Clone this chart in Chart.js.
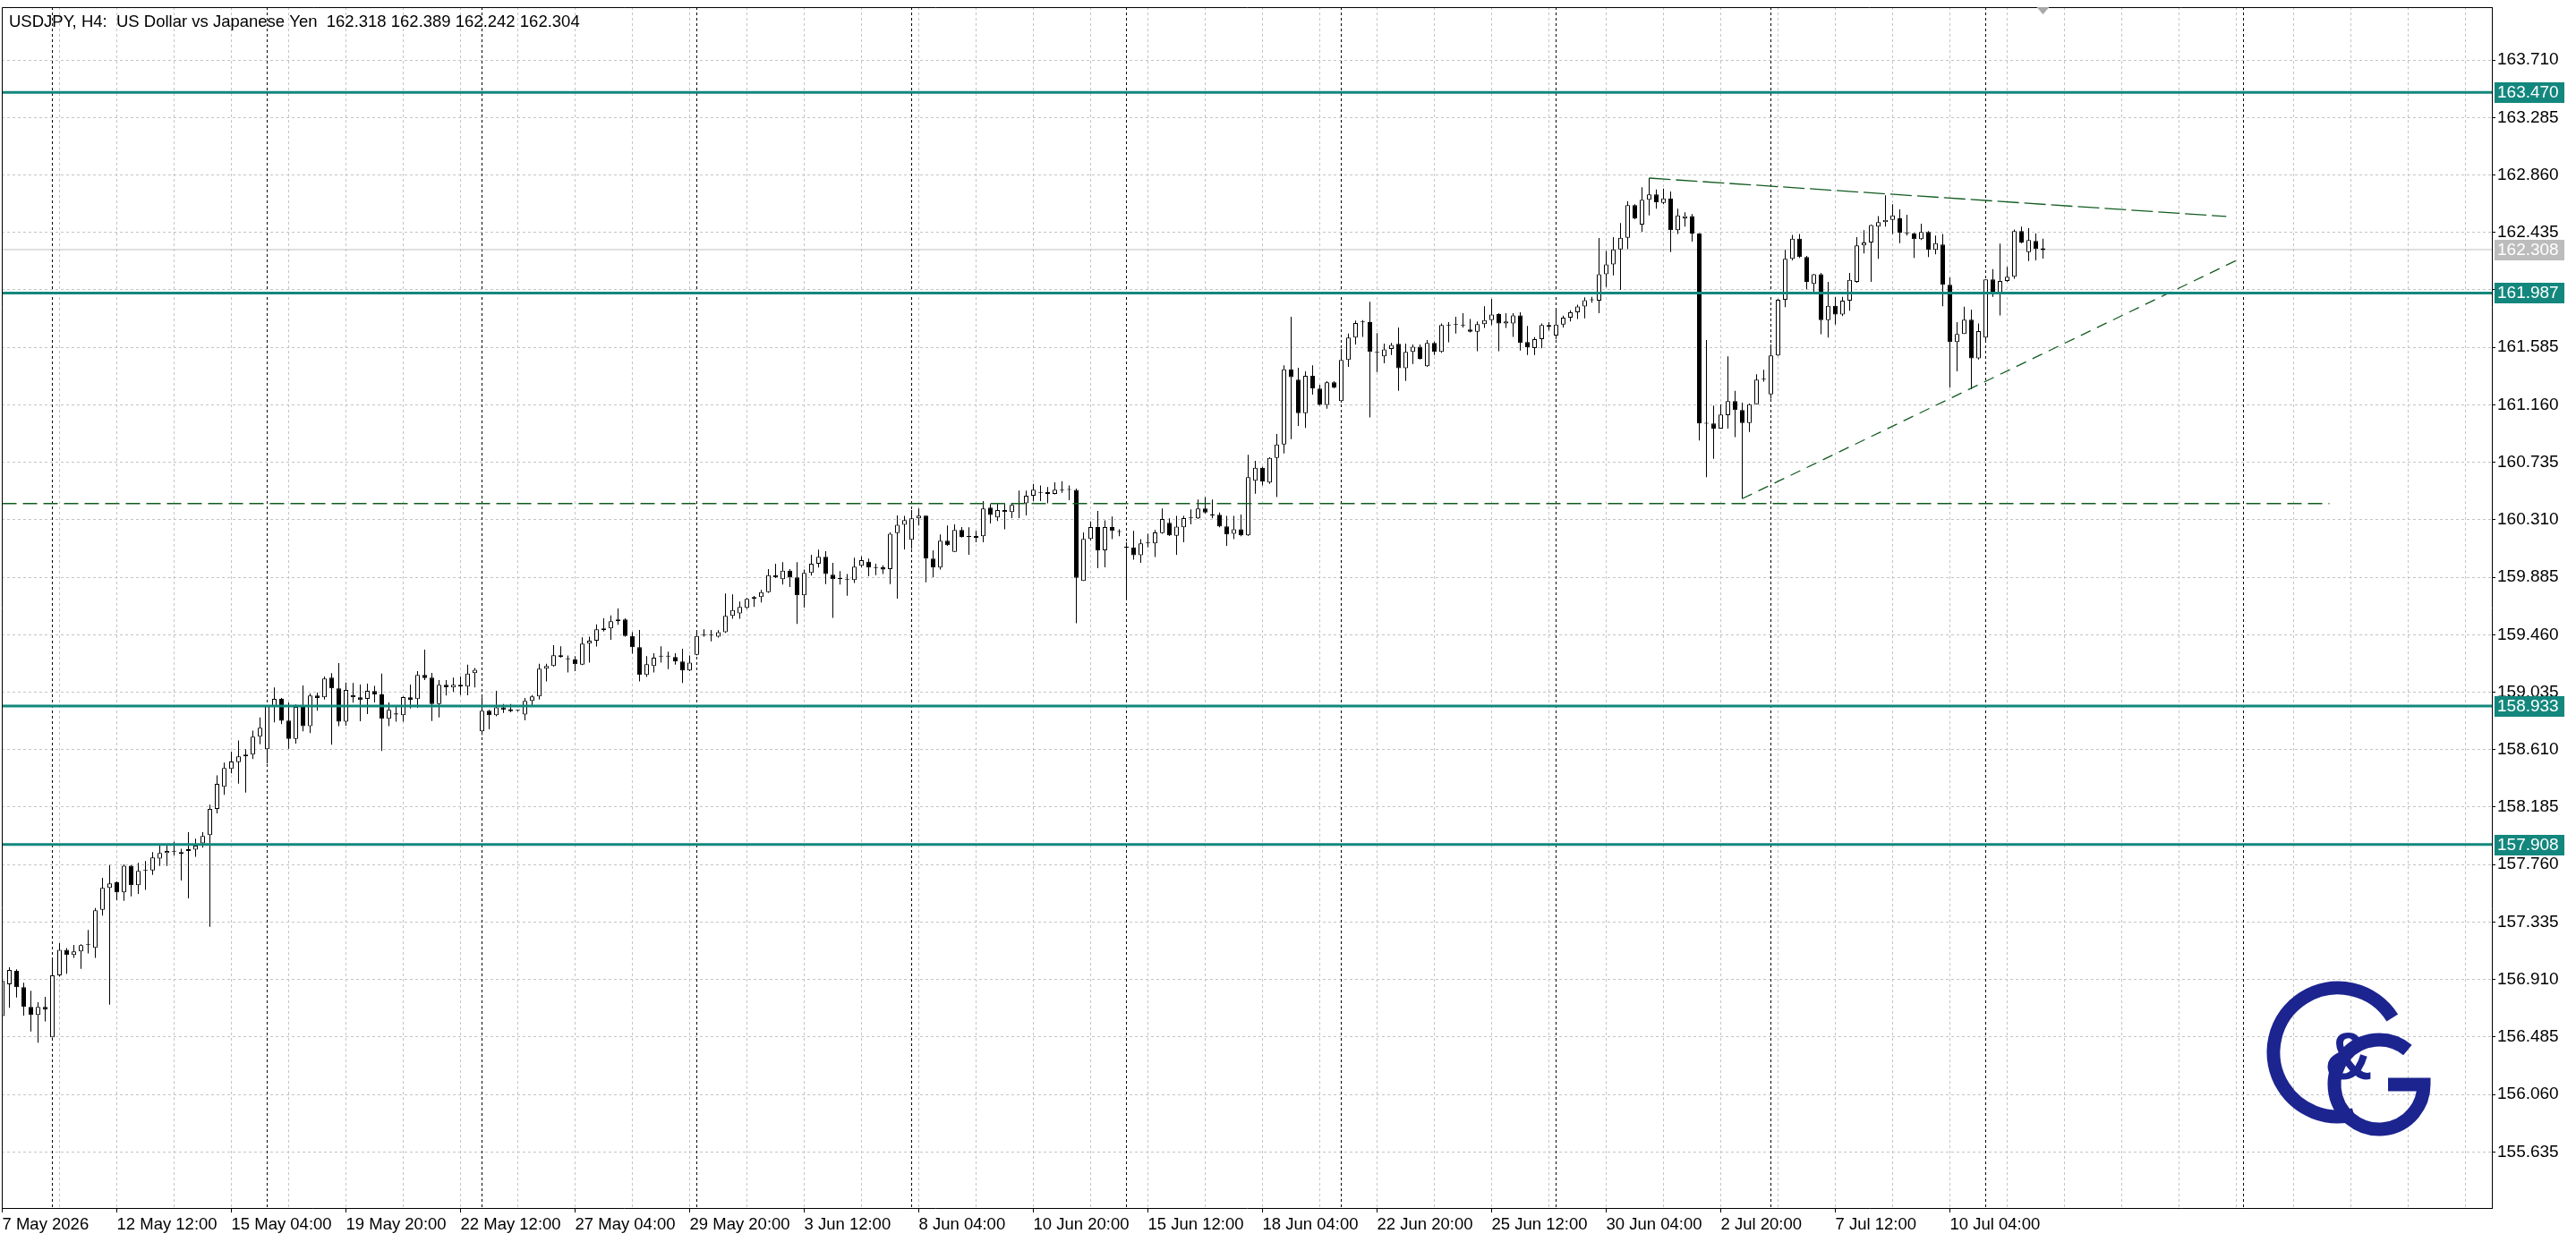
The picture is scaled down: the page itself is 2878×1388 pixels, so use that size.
<!DOCTYPE html>
<html>
<head>
<meta charset="utf-8">
<script src="https://cdn.jsdelivr.net/npm/chart.js@4.4.1/dist/chart.umd.min.js"></script>
<style>
  html, body { margin: 0; padding: 0; background: #fff; }
</style>
</head>
<body>
<canvas id="chart" width="2878" height="1388"></canvas>
<script>
// USDJPY H4, one entry per bar (bar 0 = 7 May 20:00)
const opens = [
  156.640, 156.875, 156.974, 156.853, 156.707, 156.648, 156.707, 156.482, 156.941, 157.130,
  157.091, 157.117, 157.166, 157.144, 157.426, 157.587, 157.629, 157.554, 157.752, 157.607,
  157.713, 157.717, 157.805, 157.845, 157.858, 157.839, 157.861, 157.871, 157.916, 157.978,
  158.172, 158.335, 158.467, 158.518, 158.560, 158.573, 158.706, 158.613, 158.931, 158.986,
  158.825, 158.690, 158.926, 158.783, 159.010, 158.997, 159.142, 159.063, 158.816, 159.014,
  158.997, 158.986, 159.043, 159.019, 158.838, 158.878, 158.864, 158.997, 158.984, 159.162,
  159.142, 158.948, 159.089, 159.070, 159.089, 159.076, 159.175, 158.745, 158.897, 158.864,
  158.922, 158.908, 158.897, 158.869, 158.970, 159.003, 159.209, 159.228, 159.308, 159.279,
  159.279, 159.239, 159.394, 159.416, 159.493, 159.506, 159.559, 159.573, 159.451, 159.367,
  159.162, 159.228, 159.301, 159.301, 159.295, 159.261, 159.195, 159.312, 159.453, 159.456,
  159.445, 159.478, 159.599, 159.617, 159.659, 159.725, 159.738, 159.775, 159.901, 159.870,
  159.934, 159.884, 159.751, 159.917, 159.985, 160.036, 159.903, 159.875, 159.870, 159.864,
  159.970, 160.000, 159.956, 159.959, 159.945, 160.212, 160.272, 160.162, 160.320, 160.340,
  160.023, 159.956, 160.155, 160.073, 160.234, 160.184, 160.177, 160.188, 160.400, 160.327,
  160.382, 160.367, 160.426, 160.431, 160.488, 160.510, 160.514, 160.501, 160.525, 160.532,
  160.530, 159.857, 160.168, 160.256, 160.084, 160.256, 160.223, 160.104, 160.106, 160.047,
  160.135, 160.135, 160.212, 160.287, 160.192, 160.254, 160.320, 160.320, 160.393, 160.345,
  160.347, 160.261, 160.206, 160.239, 160.195, 160.598, 160.695, 160.585, 160.768, 160.867,
  161.423, 161.346, 161.099, 161.375, 161.280, 161.159, 161.326, 161.187, 161.492, 161.657,
  161.772, 161.772, 161.545, 161.518, 161.573, 161.611, 161.430, 161.551, 161.589, 161.445,
  161.617, 161.551, 161.750, 161.750, 161.750, 161.717, 161.701, 161.756, 161.787, 161.831,
  161.761, 161.761, 161.822, 161.624, 161.580, 161.646, 161.750, 161.673, 161.754, 161.805,
  161.845, 161.887, 161.933, 161.930, 162.125, 162.198, 162.310, 162.396, 162.637, 162.493,
  162.676, 162.716, 162.654, 162.687, 162.451, 162.539, 162.555, 162.427, 161.022, 161.022,
  160.984, 161.083, 161.187, 161.121, 161.026, 161.165, 161.346, 161.238, 161.525, 161.937,
  162.239, 162.389, 162.253, 162.054, 162.125, 161.787, 161.893, 161.827, 161.931, 162.070,
  162.339, 162.361, 162.478, 162.511, 162.528, 162.539, 162.429, 162.429, 162.385, 162.438,
  162.306, 162.345, 162.048, 161.624, 161.684, 161.789, 161.503, 161.657, 162.087, 161.988,
  162.076, 162.107, 162.445, 162.290, 162.372, 162.318
];
const highs = [
  156.910, 157.000, 156.985, 156.886, 156.826, 156.742, 156.782, 157.062, 157.179, 157.143,
  157.166, 157.170, 157.276, 157.439, 157.662, 157.757, 157.636, 157.761, 157.757, 157.772,
  157.786, 157.852, 157.900, 157.900, 157.929, 157.877, 157.999, 157.951, 157.999, 158.203,
  158.419, 158.514, 158.595, 158.677, 158.613, 158.750, 158.849, 158.937, 159.070, 158.992,
  158.959, 158.944, 159.085, 159.025, 159.032, 159.151, 159.175, 159.250, 159.107, 159.103,
  159.092, 159.098, 159.081, 159.173, 158.959, 158.931, 159.003, 159.092, 159.191, 159.350,
  159.178, 159.125, 159.125, 159.142, 159.151, 159.239, 159.213, 158.997, 158.904, 159.045,
  158.948, 158.948, 158.904, 158.992, 159.014, 159.246, 159.246, 159.383, 159.374, 159.306,
  159.301, 159.440, 159.445, 159.537, 159.581, 159.603, 159.654, 159.581, 159.478, 159.495,
  159.301, 159.323, 159.374, 159.334, 159.323, 159.356, 159.306, 159.478, 159.500, 159.495,
  159.493, 159.764, 159.758, 159.705, 159.731, 159.747, 159.791, 159.945, 159.985, 159.996,
  159.945, 159.996, 159.941, 160.051, 160.089, 160.078, 159.992, 159.930, 159.908, 160.029,
  160.040, 160.023, 159.985, 159.974, 160.217, 160.342, 160.338, 160.382, 160.393, 160.342,
  160.084, 160.201, 160.267, 160.276, 160.256, 160.254, 160.228, 160.448, 160.426, 160.431,
  160.431, 160.431, 160.525, 160.525, 160.576, 160.563, 160.552, 160.587, 160.596, 160.563,
  160.541, 160.217, 160.298, 160.375, 160.305, 160.334, 160.239, 160.144, 160.228, 160.166,
  160.206, 160.234, 160.393, 160.320, 160.338, 160.338, 160.386, 160.459, 160.477, 160.459,
  160.364, 160.338, 160.338, 160.349, 160.790, 160.746, 160.702, 160.772, 160.945, 161.452,
  161.811, 161.434, 161.408, 161.452, 161.308, 161.335, 161.335, 161.573, 161.688, 161.783,
  161.787, 161.922, 161.690, 161.613, 161.617, 161.732, 161.613, 161.606, 161.606, 161.639,
  161.628, 161.761, 161.772, 161.811, 161.838, 161.794, 161.776, 161.889, 161.944, 161.838,
  161.838, 161.838, 161.845, 161.743, 161.661, 161.761, 161.772, 161.864, 161.820, 161.860,
  161.900, 161.955, 161.959, 162.394, 162.297, 162.400, 162.504, 162.665, 162.643, 162.769,
  162.837, 162.753, 162.760, 162.738, 162.610, 162.584, 162.570, 162.430, 161.639, 161.154,
  161.165, 161.518, 161.264, 161.176, 161.170, 161.386, 161.419, 161.606, 161.944, 162.306,
  162.416, 162.423, 162.261, 162.129, 162.136, 162.070, 161.959, 161.959, 162.136, 162.400,
  162.451, 162.493, 162.555, 162.709, 162.643, 162.606, 162.566, 162.434, 162.500, 162.445,
  162.411, 162.423, 162.103, 161.772, 161.886, 161.864, 161.761, 162.087, 162.164, 162.352,
  162.180, 162.456, 162.478, 162.467, 162.429, 162.389
];
const lows = [
  156.630, 156.700, 156.776, 156.643, 156.526, 156.442, 156.599, 156.480, 156.930, 156.952,
  157.069, 156.989, 157.102, 157.069, 157.382, 156.724, 157.497, 157.492, 157.525, 157.543,
  157.572, 157.684, 157.750, 157.750, 157.827, 157.642, 157.510, 157.817, 157.885, 157.300,
  158.139, 158.275, 158.434, 158.359, 158.293, 158.540, 158.650, 158.507, 158.811, 158.798,
  158.617, 158.655, 158.745, 158.732, 158.897, 158.981, 158.646, 158.783, 158.787, 158.957,
  158.820, 158.873, 158.959, 158.600, 158.783, 158.816, 158.816, 158.915, 158.920, 159.125,
  158.822, 158.849, 159.010, 159.036, 159.014, 159.012, 159.070, 158.717, 158.761, 158.856,
  158.882, 158.886, 158.891, 158.827, 158.926, 158.981, 159.114, 159.224, 159.290, 159.180,
  159.191, 159.235, 159.253, 159.372, 159.484, 159.422, 159.533, 159.445, 159.319, 159.114,
  159.147, 159.180, 159.253, 159.206, 159.239, 159.103, 159.191, 159.306, 159.445, 159.411,
  159.438, 159.473, 159.577, 159.577, 159.650, 159.665, 159.698, 159.769, 159.879, 159.831,
  159.813, 159.539, 159.661, 159.897, 159.956, 159.835, 159.584, 159.831, 159.749, 159.842,
  159.959, 159.892, 159.901, 159.908, 159.835, 159.727, 160.091, 160.095, 160.267, 159.848,
  159.886, 159.941, 160.117, 160.073, 160.179, 160.051, 160.144, 160.144, 160.283, 160.300,
  160.239, 160.323, 160.323, 160.342, 160.448, 160.448, 160.431, 160.497, 160.510, 160.455,
  159.544, 159.857, 160.157, 159.952, 159.959, 160.166, 160.188, 159.731, 160.014, 159.992,
  160.106, 160.034, 160.206, 160.190, 160.051, 160.144, 160.276, 160.316, 160.356, 160.320,
  160.254, 160.117, 160.166, 160.188, 160.190, 160.503, 160.563, 160.576, 160.477, 160.801,
  160.907, 161.004, 160.989, 161.236, 161.154, 161.132, 161.282, 161.176, 161.441, 161.606,
  161.662, 161.066, 161.403, 161.467, 161.529, 161.264, 161.337, 161.463, 161.496, 161.441,
  161.529, 161.545, 161.622, 161.688, 161.732, 161.695, 161.556, 161.728, 161.750, 161.556,
  161.728, 161.662, 161.562, 161.529, 161.529, 161.578, 161.710, 161.644, 161.732, 161.776,
  161.794, 161.800, 161.915, 161.838, 162.032, 162.118, 162.010, 162.312, 162.533, 162.440,
  162.561, 162.610, 162.643, 162.290, 162.423, 162.478, 162.367, 160.896, 160.625, 160.761,
  160.984, 160.984, 160.922, 160.466, 160.960, 161.165, 161.331, 161.205, 161.522, 161.882,
  162.228, 162.246, 162.014, 161.997, 161.683, 161.657, 161.754, 161.816, 161.856, 162.063,
  162.279, 162.070, 162.239, 162.478, 162.423, 162.356, 162.411, 162.246, 162.378, 162.253,
  162.273, 161.889, 161.286, 161.408, 161.684, 161.275, 161.496, 161.639, 161.959, 161.822,
  162.070, 162.092, 162.354, 162.224, 162.228, 162.242
];
const closes = [
  156.900, 156.980, 156.853, 156.707, 156.648, 156.707, 156.687, 156.941, 157.130, 157.091,
  157.117, 157.164, 157.164, 157.422, 157.587, 157.620, 157.554, 157.752, 157.607, 157.713,
  157.717, 157.812, 157.845, 157.861, 157.856, 157.852, 157.874, 157.900, 157.971, 158.172,
  158.357, 158.474, 158.522, 158.560, 158.573, 158.706, 158.772, 158.931, 158.986, 158.823,
  158.690, 158.926, 158.783, 159.010, 158.992, 159.136, 159.063, 158.816, 159.052, 158.997,
  158.977, 159.045, 159.019, 158.838, 158.904, 158.869, 158.999, 158.979, 159.162, 159.140,
  158.948, 159.089, 159.072, 159.089, 159.076, 159.173, 159.200, 158.897, 158.864, 158.922,
  158.904, 158.895, 158.897, 158.970, 159.003, 159.209, 159.228, 159.308, 159.295, 159.279,
  159.242, 159.394, 159.416, 159.500, 159.506, 159.559, 159.573, 159.451, 159.367, 159.162,
  159.242, 159.290, 159.299, 159.299, 159.261, 159.195, 159.253, 159.451, 159.458, 159.453,
  159.478, 159.599, 159.643, 159.665, 159.725, 159.738, 159.775, 159.901, 159.884, 159.934,
  159.884, 159.751, 159.917, 159.985, 160.036, 159.908, 159.870, 159.873, 159.868, 159.963,
  160.012, 159.956, 159.954, 159.941, 160.206, 160.272, 160.307, 160.320, 160.340, 160.023,
  159.956, 160.155, 160.122, 160.234, 160.184, 160.186, 160.190, 160.393, 160.345, 160.382,
  160.367, 160.420, 160.428, 160.488, 160.532, 160.512, 160.501, 160.532, 160.528, 160.530,
  159.881, 160.168, 160.256, 160.084, 160.256, 160.228, 160.219, 160.106, 160.047, 160.135,
  160.137, 160.217, 160.316, 160.195, 160.259, 160.323, 160.323, 160.393, 160.364, 160.342,
  160.261, 160.201, 160.239, 160.195, 160.625, 160.695, 160.592, 160.768, 160.867, 161.423,
  161.364, 161.099, 161.375, 161.282, 161.159, 161.326, 161.286, 161.492, 161.657, 161.765,
  161.770, 161.551, 161.547, 161.569, 161.602, 161.430, 161.551, 161.589, 161.500, 161.617,
  161.551, 161.750, 161.747, 161.752, 161.747, 161.701, 161.756, 161.787, 161.827, 161.761,
  161.776, 161.822, 161.617, 161.584, 161.646, 161.750, 161.739, 161.754, 161.805, 161.845,
  161.887, 161.933, 161.935, 162.125, 162.198, 162.310, 162.396, 162.637, 162.537, 162.676,
  162.716, 162.659, 162.687, 162.451, 162.561, 162.555, 162.427, 161.022, 161.020, 160.984,
  161.088, 161.187, 161.121, 161.026, 161.165, 161.346, 161.348, 161.525, 161.937, 162.239,
  162.389, 162.253, 162.070, 162.125, 161.787, 161.893, 161.827, 161.931, 162.085, 162.339,
  162.361, 162.489, 162.511, 162.528, 162.561, 162.434, 162.431, 162.385, 162.438, 162.306,
  162.356, 162.048, 161.624, 161.684, 161.789, 161.503, 161.706, 162.087, 161.988, 162.076,
  162.107, 162.445, 162.361, 162.378, 162.312, 162.304
];

// time axis: bar index of each label and its text
const timeLabelBars = [0, 16, 32, 48, 64, 80, 96, 112, 128, 144, 160, 176, 192, 208, 224, 240, 256, 272];
const timeLabels = ['7 May 2026', '12 May 12:00', '15 May 04:00', '19 May 20:00', '22 May 12:00',
  '27 May 04:00', '29 May 20:00', '3 Jun 12:00', '8 Jun 04:00', '10 Jun 20:00', '15 Jun 12:00',
  '18 Jun 04:00', '22 Jun 20:00', '25 Jun 12:00', '30 Jun 04:00', '2 Jul 20:00', '7 Jul 12:00', '10 Jul 04:00'];
// monday 00:00 separators
const weekBars = [7, 37, 67, 97, 127, 157, 187, 217, 247, 277, 313];

// price axis
const priceTicks = [155.635, 156.060, 156.485, 156.910, 157.335, 157.760, 158.185, 158.610, 159.035, 159.460,
  159.885, 160.310, 160.735, 161.160, 161.585, 162.010, 162.435, 162.860, 163.285, 163.710];
const levelPrices = [163.470, 161.987, 158.933, 157.908];
const bidPrice = 162.308;
const supportPrice = 160.430;

// drawn trend lines: [bar, price] end points
const upperTrend = [[230, 162.837], [310.6, 162.553]];
const lowerTrend = [[243, 160.466], [312.8, 162.248]];
const supportSpan = [0, 325];

const X_MIN = -0.0625, X_MAX = 347.6875;
const Y_MIN = 155.220, Y_MAX = 164.101;

const FONT = '"Liberation Sans", Arial, sans-serif';
const FONT_SIZE = 19;
const TEAL = '#13877d';
const GREEN = '#125c20';

const bars = opens.map((_, i) => i);
const wickData = bars.map(i => ({ x: i, y: [lows[i], highs[i]] }));
const bodyData = bars.map(i => ({ x: i, y: [opens[i], closes[i]] }));
const bodyFill = bars.map(i => closes[i] >= opens[i] ? '#ffffff' : '#000000');

const gridBars = [];
for (let b = 0; b <= X_MAX; b += 8) gridBars.push(b);

function hLine(price, x0, x1) {
  return [{ x: x0, y: price }, { x: x1, y: price }];
}

const lineSets = [];
levelPrices.forEach(p => {
  lineSets.push({ type: 'line', data: hLine(p, X_MIN, X_MAX), borderColor: TEAL, borderWidth: 3,
    pointRadius: 0, order: 0 });
});
lineSets.push({ type: 'line', data: hLine(bidPrice, X_MIN, X_MAX), borderColor: '#c0c0c0', borderWidth: 1,
  pointRadius: 0, order: 4 });
lineSets.push({ type: 'line', data: hLine(supportPrice, supportSpan[0], supportSpan[1]), borderColor: GREEN,
  borderWidth: 1.4, borderDash: [16, 7], pointRadius: 0, order: 0 });
lineSets.push({ type: 'line', data: upperTrend.map(p => ({ x: p[0], y: p[1] })), borderColor: GREEN,
  borderWidth: 1.3, borderDash: [24, 6], pointRadius: 0, order: 0 });
lineSets.push({ type: 'line', data: lowerTrend.map(p => ({ x: p[0], y: p[1] })), borderColor: GREEN,
  borderWidth: 1.3, borderDash: [12, 8], pointRadius: 0, order: 0 });

function axisBox(ctx, y, text, bg, right) {
  ctx.fillStyle = bg;
  ctx.fillRect(right + 3, Math.round(y) - 11, 78, 23);
  ctx.fillStyle = '#ffffff';
  ctx.textAlign = 'left';
  ctx.textBaseline = 'middle';
  ctx.fillText(text, right + 6, Math.round(y) + 1);
}

function drawLogo(ctx) {
  ctx.save();
  ctx.strokeStyle = '#1c2490';
  ctx.fillStyle = '#1c2490';
  ctx.lineWidth = 15;
  ctx.lineCap = 'butt';
  // outer C, open on the right
  ctx.beginPath();
  ctx.arc(2612, 1176, 72, -0.18 * Math.PI, 0.42 * Math.PI, true);
  ctx.stroke();
  // G, open at the upper right, with its bar
  ctx.beginPath();
  ctx.arc(2658, 1212, 50, -0.28 * Math.PI, 0, true);
  ctx.lineTo(2668, 1212);
  ctx.stroke();
  ctx.font = 'bold 74px ' + FONT;
  ctx.textAlign = 'center';
  ctx.textBaseline = 'middle';
  ctx.fillText('&', 2624, 1186);
  ctx.restore();
}

const mtPlugin = {
  id: 'mt',
  beforeDatasetsDraw(chart) {
    const { ctx, chartArea: a, scales: { x } } = chart;
    ctx.save();
    ctx.strokeStyle = '#000';
    ctx.lineWidth = 1;
    ctx.setLineDash([3, 3]);
    weekBars.forEach(b => {
      const px = Math.floor(x.getPixelForValue(b)) + 0.5;
      ctx.beginPath();
      ctx.moveTo(px, a.top);
      ctx.lineTo(px, a.bottom);
      ctx.stroke();
    });
    ctx.restore();
  },
  afterDraw(chart) {
    const { ctx, chartArea: a, scales: { x, y } } = chart;
    ctx.save();
    // frame
    ctx.strokeStyle = '#000';
    ctx.lineWidth = 1;
    ctx.beginPath();
    ctx.moveTo(a.left + 0.5, a.bottom);
    ctx.lineTo(a.left + 0.5, a.top + 0.5);
    ctx.lineTo(a.right, a.top + 0.5);
    ctx.stroke();
    // price boxes
    ctx.font = FONT_SIZE + 'px ' + FONT;
    levelPrices.forEach(p => axisBox(ctx, y.getPixelForValue(p), p.toFixed(3), TEAL, a.right));
    axisBox(ctx, y.getPixelForValue(bidPrice), bidPrice.toFixed(3), '#bcbcbc', a.right);
    // title
    const last = opens.length - 1;
    ctx.font = '18.5px ' + FONT;
    ctx.fillStyle = '#000';
    ctx.textAlign = 'left';
    ctx.textBaseline = 'middle';
    ctx.fillText('USDJPY, H4:  US Dollar vs Japanese Yen  ' +
      [opens[last], highs[last], lows[last], closes[last]].map(v => v.toFixed(3)).join(' '), 10, 25);
    // chart shift marker
    const sx = x.getPixelForValue(last);
    ctx.fillStyle = '#a8a8a8';
    ctx.beginPath();
    ctx.moveTo(sx - 7, a.top);
    ctx.lineTo(sx + 7, a.top);
    ctx.lineTo(sx, a.top + 8);
    ctx.closePath();
    ctx.fill();
    ctx.restore();
    drawLogo(ctx);
  }
};

new Chart(document.getElementById('chart'), {
  type: 'bar',
  data: {
    datasets: [
      { type: 'bar', data: wickData, backgroundColor: '#000', barThickness: 1, grouped: false,
        minBarLength: 1, inflateAmount: 0, order: 3 },
      { type: 'bar', data: bodyData, backgroundColor: bodyFill, borderColor: '#000', borderWidth: 1,
        borderSkipped: false, barThickness: 5, grouped: false, minBarLength: 1, inflateAmount: 0, order: 2 },
      ...lineSets
    ]
  },
  options: {
    responsive: false,
    animation: false,
    events: [],
    layout: { padding: { left: 2, top: 8, right: 0, bottom: 0 } },
    plugins: { legend: { display: false }, tooltip: { enabled: false } },
    scales: {
      x: {
        type: 'linear',
        min: X_MIN,
        max: X_MAX,
        offset: false,
        afterBuildTicks: s => { s.ticks = gridBars.map(v => ({ value: v })); },
        afterFit: s => { s.height = 38; s.paddingLeft = 0; s.paddingRight = 0; },
        ticks: {
          autoSkip: false,
          maxRotation: 0,
          minRotation: 0,
          align: 'start',
          padding: 3,
          color: '#000',
          font: { family: FONT, size: 18.5 },
          callback: v => {
            const k = timeLabelBars.indexOf(v);
            return k >= 0 ? timeLabels[k] : '';
          }
        },
        grid: {
          offset: false,
          color: '#c4c4c4',
          tickLength: 5,
          tickBorderDash: [],
          tickColor: c => (c.tick && timeLabelBars.includes(c.tick.value)) ? '#000' : 'rgba(0,0,0,0)'
        },
        border: { color: '#000', width: 1, dash: [3, 3] }
      },
      y: {
        type: 'linear',
        position: 'right',
        min: Y_MIN,
        max: Y_MAX,
        afterBuildTicks: s => { s.ticks = priceTicks.map(v => ({ value: v })); },
        afterFit: s => { s.width = 94; s.paddingTop = 0; s.paddingBottom = 0; },
        ticks: {
          autoSkip: false,
          padding: 2,
          color: '#000',
          font: { family: FONT, size: FONT_SIZE },
          callback: v => v.toFixed(3)
        },
        grid: {
          color: '#c4c4c4',
          tickLength: 4,
          tickBorderDash: [],
          tickColor: '#000'
        },
        border: { color: '#000', width: 1, dash: [3, 3] }
      }
    }
  },
  plugins: [mtPlugin]
});
</script>
</body>
</html>
